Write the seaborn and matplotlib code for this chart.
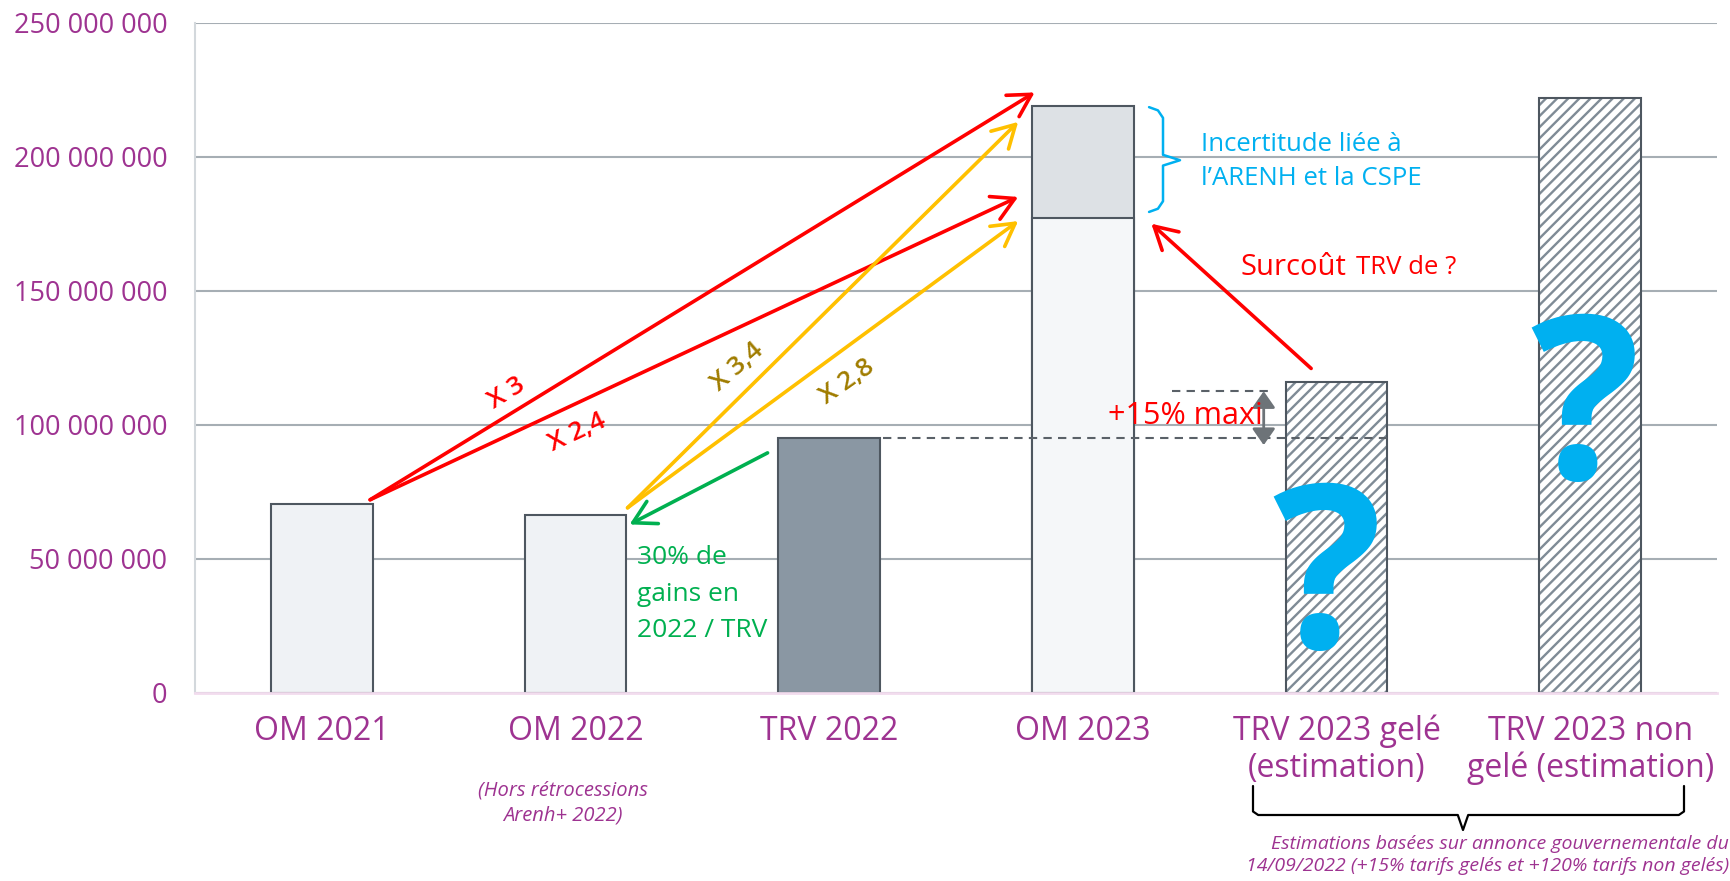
"""Bar chart: OM vs TRV costs, with annotation arrows."""

import numpy as np
import pandas as pd
import seaborn as sns
import matplotlib.pyplot as plt
from matplotlib.patches import Rectangle
from matplotlib.lines import Line2D
from matplotlib.ticker import FuncFormatter

# DATA
categories = ["OM 2021", "OM 2022", "TRV 2022", "OM 2023",
              "TRV 2023 gelé\n(estimation)", "TRV 2023 non\ngelé (estimation)"]
totals = [70.5e6, 66.5e6, 95e6, 219e6, 116e6, 222e6]
om2023_base = 177e6
estimated = ["TRV 2023 gelé\n(estimation)", "TRV 2023 non\ngelé (estimation)"]

# STYLE
purple = "#9E3391"
bar_colors = ["#EFF2F5", "#EFF2F5", "#8A97A3", "#DDE1E5", "#FFFFFF", "#FFFFFF"]
edge = "#4E5760"

sns.set_style("white")
plt.rcParams['font.family'] = ['Open Sans', 'DejaVu Sans']
plt.rcParams['hatch.linewidth'] = 1.7

fig = plt.figure(figsize=(17.31, 8.81), dpi=100)
ax = fig.add_axes([0.1127, 0.2137, 0.8792, 0.7605])

df = pd.DataFrame({"cat": categories, "value": totals})
sns.barplot(data=df, x="cat", y="value", hue="cat", order=categories,
            palette=bar_colors, legend=False, width=0.4, saturation=1,
            edgecolor=edge, linewidth=1.5, ax=ax)

# base part of OM 2023 (stacked look)
sns.barplot(x=["OM 2023"], y=[om2023_base], order=categories, color="#F5F7F9",
            width=0.4, saturation=1, edgecolor=edge, linewidth=1.5, ax=ax)

# hatched estimate bars
for p, c in zip(ax.patches[:len(categories)], categories):
    if c in estimated:
        p.set_hatch("///")
        p.set_edgecolor("#7F8B96")
        p.set_linewidth(0)
        ax.add_patch(Rectangle(p.get_xy(), p.get_width(), p.get_height(),
                               fill=False, edgecolor=edge, linewidth=1.5, zorder=p.get_zorder() + 0.1))

ax.set_xlim(-0.5, 5.5)
ax.set_ylim(0, 250e6)
ax.set_yticks(np.arange(0, 250e6 + 1, 50e6))
ax.yaxis.set_major_formatter(FuncFormatter(lambda v, _: f"{int(v):,}".replace(",", " ")))
ax.yaxis.grid(True, color="#A6AEB4", lw=1.5)
ax.set_axisbelow(True)
ax.set_xlabel("")
ax.set_ylabel("")
ax.tick_params(axis="y", length=0, pad=20, labelsize=19.5, labelcolor=purple)
ax.tick_params(axis="x", length=0, pad=16, labelsize=23, labelcolor=purple)
for lbl in ax.get_xticklabels():
    lbl.set_linespacing(1.15)
for s in ["top", "right"]:
    ax.spines[s].set_visible(False)
ax.spines["left"].set_color("#D3D8DC")
ax.spines["left"].set_linewidth(1.5)
ax.spines["bottom"].set_color("#F2DCEE")
ax.spines["bottom"].set_linewidth(2)


def arrow(start, end, color, lw=2.6, style="->,head_length=0.8,head_width=0.45"):
    ax.annotate("", xy=end, xytext=start,
                arrowprops=dict(arrowstyle=style, color=color, lw=lw,
                                shrinkA=0, shrinkB=0, mutation_scale=20))


red, gold, green, cyan = "#FF0000", "#FFC000", "#00B050", "#00B0F0"

# multiplication arrows
arrow((0.19, 72e6), (2.81, 224e6), red)
arrow((0.19, 72e6), (2.745, 185e6), red)
arrow((1.205, 69e6), (2.745, 213e6), gold)
arrow((1.205, 69e6), (2.745, 176e6), gold)
arrow((1.757, 89.5e6), (1.213, 62.8e6), green)
arrow((3.9, 121e6), (3.27, 175e6), red)

ax.text(0.73, 111.8e6, "X 3", color=red, fontsize=19, fontweight="semibold",
        rotation=32, ha="center", va="center")
ax.text(1.006, 96.9e6, "X 2,4", color=red, fontsize=19, fontweight="semibold",
        rotation=25, ha="center", va="center")
ax.text(1.637, 121.5e6, "X 3,4", color="#A07C00", fontsize=19, fontweight="semibold",
        rotation=41, ha="center", va="center")
ax.text(2.07, 115.9e6, "X 2,8", color="#A07C00", fontsize=19, fontweight="semibold",
        rotation=35, ha="center", va="center")

ax.text(1.243, 55e6, "30% de\ngains en\n2022 / TRV", color=green, fontsize=19,
        ha="left", va="top", linespacing=1.6)

# uncertainty brace next to OM 2023
bx0, bx1, btip = 3.261, 3.316, 3.383
by0, by1, bmid = 218.5e6, 179.4e6, 198.7e6
ax.plot([bx0, bx1 - 0.02, bx1, bx1, btip, bx1, bx1, bx1 - 0.02, bx0],
        [by0, by0 - 1.2e6, by0 - 4e6, bmid + 2e6, bmid, bmid - 2e6, by1 + 4e6, by1 + 1.2e6, by1],
        color=cyan, lw=1.8, solid_joinstyle="round")
ax.text(3.465, 198.3e6, "Incertitude liée à\nl’ARENH et la CSPE", color=cyan,
        fontsize=18.5, ha="left", va="center", linespacing=1.45)

ax.text(3.62, 158.5e6, "Surcoût", color=red, fontsize=21, ha="left", va="center")
ax.text(4.075, 158.5e6, "TRV de ?", color=red, fontsize=18.5, ha="left", va="center")

# +15% maxi
ax.plot([2.213, 4.209], [95e6, 95e6], ls=(0, (4, 3)), color="#5A6168", lw=1.5)
ax.plot([3.35, 3.737], [112.5e6, 112.5e6], ls=(0, (4, 3)), color="#5A6168", lw=1.5)
ax.annotate("", xy=(3.713, 112.5e6), xytext=(3.713, 92.4e6),
            arrowprops=dict(arrowstyle="<|-|>,head_length=0.5,head_width=0.35",
                            color="#6D7378", lw=2, shrinkA=0, shrinkB=0, mutation_scale=20))
ax.text(3.71, 103.2e6, "+15% maxi", color=red, fontsize=22, ha="right", va="center")

# question marks
ax.text(3.961, 39e6, "?", color=cyan, fontsize=165, fontweight="bold",
        ha="center", va="center")
ax.text(4.978, 102e6, "?", color=cyan, fontsize=165, fontweight="bold",
        ha="center", va="center")

# notes below the axis
W, H = 1731, 881
fig.text(563 / W, 1 - 803 / H, "(Hors rétrocessions\nArenh+ 2022)", color=purple,
         fontsize=14.5, style="italic", ha="center", va="center", linespacing=1.3)

bl, br, bc = 1253 / W, 1684 / W, 1463 / W
yt, yf, ytip = 1 - 786 / H, 1 - 815 / H, 1 - 830 / H
fig.add_artist(Line2D([bl, bl, bl + 0.003, bc - 0.003, bc, bc + 0.003, br - 0.003, br, br],
                      [yt, yf + 0.004, yf, yf, ytip, yf, yf, yf + 0.004, yt],
                      color="black", lw=1.6, transform=fig.transFigure))
fig.text(0.999, 1 - 855 / H,
         "Estimations basées sur annonce gouvernementale du\n"
         "14/09/2022 (+15% tarifs gelés et +120% tarifs non gelés)",
         color=purple, fontsize=14, style="italic", ha="right", va="center",
         linespacing=1.35)

plt.savefig("out.png", dpi=100)
